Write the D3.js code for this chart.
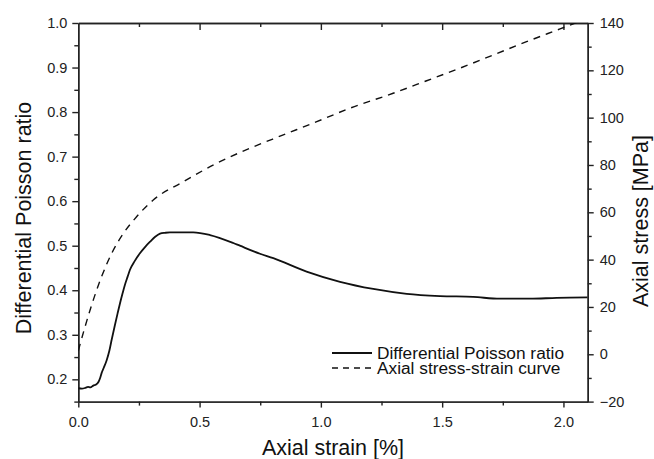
<!DOCTYPE html>
<html>
<head>
<meta charset="utf-8">
<script src="https://cdn.jsdelivr.net/npm/d3@7"></script>
<style>
  body { margin: 0; background: #fff; }
  svg { display: block; font-family: Arial, "Liberation Sans", sans-serif; }
  .axis text { font-size: 14.5px; fill: #222; }
  .axis path, .axis line { stroke: #222; stroke-width: 1.4; }
</style>
</head>
<body>
<svg id="chart" width="654" height="459"></svg>
<script>
// axial strain [%] vs differential Poisson ratio (left axis)
const poissonStrain = [0, 0.015, 0.03, 0.04, 0.05, 0.062, 0.072, 0.083, 0.09, 0.096, 0.105, 0.117, 0.128, 0.138, 0.151,
  0.162, 0.172, 0.182, 0.192, 0.203, 0.213, 0.233, 0.254, 0.275, 0.296, 0.317, 0.337, 0.358, 0.378, 0.42, 0.474,
  0.543, 0.639, 0.666, 0.749, 0.804, 0.941, 1.079, 1.216, 1.354, 1.491, 1.628, 1.738, 1.862, 1.972, 2.1];
const poissonRatio = [0.180, 0.179, 0.181, 0.183, 0.182, 0.186, 0.188, 0.194, 0.203, 0.214, 0.226, 0.243, 0.264, 0.290, 0.322,
  0.348, 0.371, 0.392, 0.412, 0.430, 0.446, 0.466, 0.483, 0.497, 0.509, 0.520, 0.527, 0.529, 0.530, 0.530, 0.530,
  0.524, 0.506, 0.500, 0.482, 0.472, 0.442, 0.419, 0.403, 0.392, 0.387, 0.385, 0.381, 0.381, 0.383, 0.384];

// axial strain [%] vs axial stress [MPa] (right axis)
const stressStrain = [0, 0.028, 0.062, 0.096, 0.138, 0.186, 0.241, 0.309, 0.433, 0.570, 0.708, 0.845, 0.983, 1.12,
  1.298, 1.436, 1.573, 1.711, 1.848, 1.986, 2.1];
const axialStress = [1.5, 11.7, 23, 32.8, 42.7, 51.1, 58.2, 65.2, 72.9, 80.7, 87.1, 92.7, 98.3, 104,
  110.3, 115.6, 120.9, 126.5, 132.1, 137.5, 142];

const xMajor = [0, 0.5, 1.0, 1.5, 2.0];
const xMinor = [0.25, 0.75, 1.25, 1.75];
const yLeftMajor = [0.2, 0.3, 0.4, 0.5, 0.6, 0.7, 0.8, 0.9, 1.0];
const yLeftMinor = [0.15, 0.25, 0.35, 0.45, 0.55, 0.65, 0.75, 0.85, 0.95];
const yRightMajor = [-20, 0, 20, 40, 60, 80, 100, 120, 140];
const yRightMinor = [-10, 10, 30, 50, 70, 90, 110, 130];

const legendLabels = ['Differential Poisson ratio', 'Axial stress-strain curve'];

const margin = { top: 23, right: 66.3, bottom: 57.4, left: 78.3 };
const width = 654, height = 459;
const svg = d3.select('#chart');

const x = d3.scaleLinear().domain([0, 2.1]).range([margin.left, width - margin.right]);
const yL = d3.scaleLinear().domain([0.15, 1.0]).range([height - margin.bottom, margin.top]);
const yR = d3.scaleLinear().domain([-20, 140]).range([height - margin.bottom, margin.top]);

svg.append('defs').append('clipPath').attr('id', 'plot-clip')
  .append('rect')
  .attr('x', margin.left).attr('y', margin.top)
  .attr('width', x.range()[1] - margin.left)
  .attr('height', yL.range()[0] - margin.top);

// minor ticks first, then majors with labels
const bottomY = height - margin.bottom;

svg.append('g').attr('class', 'axis').attr('transform', `translate(0,${bottomY})`)
  .call(d3.axisBottom(x).tickValues(xMinor).tickSize(4).tickSizeOuter(0).tickFormat(''));
svg.append('g').attr('class', 'axis').attr('transform', `translate(0,${bottomY})`)
  .call(d3.axisBottom(x).tickValues(xMajor).tickSize(6).tickSizeOuter(0).tickPadding(9).tickFormat(d3.format('.1f')));

// top frame, ticks pointing inward
svg.append('g').attr('class', 'axis').attr('transform', `translate(0,${margin.top})`)
  .call(d3.axisBottom(x).tickValues(xMinor).tickSize(4).tickSizeOuter(0).tickFormat(''));
svg.append('g').attr('class', 'axis').attr('transform', `translate(0,${margin.top})`)
  .call(d3.axisBottom(x).tickValues(xMajor.filter(d => d > 0)).tickSize(7).tickSizeOuter(0).tickFormat(''));

svg.append('g').attr('class', 'axis').attr('transform', `translate(${margin.left},0)`)
  .call(d3.axisLeft(yL).tickValues(yLeftMinor).tickSize(4).tickSizeOuter(0).tickFormat(''));
svg.append('g').attr('class', 'axis').attr('transform', `translate(${margin.left},0)`)
  .call(d3.axisLeft(yL).tickValues(yLeftMajor).tickSize(6).tickSizeOuter(0).tickPadding(5).tickFormat(d3.format('.1f')));

const rightX = x.range()[1];
svg.append('g').attr('class', 'axis').attr('transform', `translate(${rightX},0)`)
  .call(d3.axisRight(yR).tickValues(yRightMinor).tickSize(4).tickSizeOuter(0).tickFormat(''));
svg.append('g').attr('class', 'axis').attr('transform', `translate(${rightX},0)`)
  .call(d3.axisRight(yR).tickValues(yRightMajor).tickSize(6).tickSizeOuter(0).tickPadding(6));

// curves
const plot = svg.append('g').attr('clip-path', 'url(#plot-clip)');

const poissonLine = d3.line()
  .x((d, i) => x(poissonStrain[i]))
  .y(d => yL(d))
  .curve(d3.curveMonotoneX);

const stressLine = d3.line()
  .x((d, i) => x(stressStrain[i]))
  .y(d => yR(d))
  .curve(d3.curveMonotoneX);

plot.append('path').datum(axialStress)
  .attr('d', stressLine)
  .attr('fill', 'none').attr('stroke', '#111').attr('stroke-width', 1.4)
  .attr('stroke-dasharray', '7,6');

plot.append('path').datum(poissonRatio)
  .attr('d', poissonLine)
  .attr('fill', 'none').attr('stroke', '#111').attr('stroke-width', 1.8);

// axis titles
svg.append('text')
  .attr('x', 333).attr('y', 455)
  .attr('text-anchor', 'middle').attr('font-size', 21.5).attr('fill', '#111')
  .text('Axial strain [%]');

svg.append('text')
  .attr('transform', 'translate(30.5,218) rotate(-90)')
  .attr('text-anchor', 'middle').attr('font-size', 21.5).attr('fill', '#111')
  .text('Differential Poisson ratio');

svg.append('text')
  .attr('transform', 'translate(648,221) rotate(-90)')
  .attr('text-anchor', 'middle').attr('font-size', 21.5).attr('fill', '#111')
  .text('Axial stress [MPa]');

// legend
const legend = svg.append('g').attr('transform', 'translate(332,353)');
legendLabels.forEach((label, i) => {
  const row = legend.append('g').attr('transform', `translate(0,${i * 15})`);
  row.append('line')
    .attr('x1', 0).attr('x2', 40).attr('y1', 0).attr('y2', 0)
    .attr('stroke', '#111').attr('stroke-width', i === 0 ? 1.8 : 1.4)
    .attr('stroke-dasharray', i === 0 ? null : '6,5');
  row.append('text')
    .attr('x', 45).attr('y', 6)
    .attr('font-size', 17.3).attr('fill', '#111')
    .text(label);
});
</script>
</body>
</html>
